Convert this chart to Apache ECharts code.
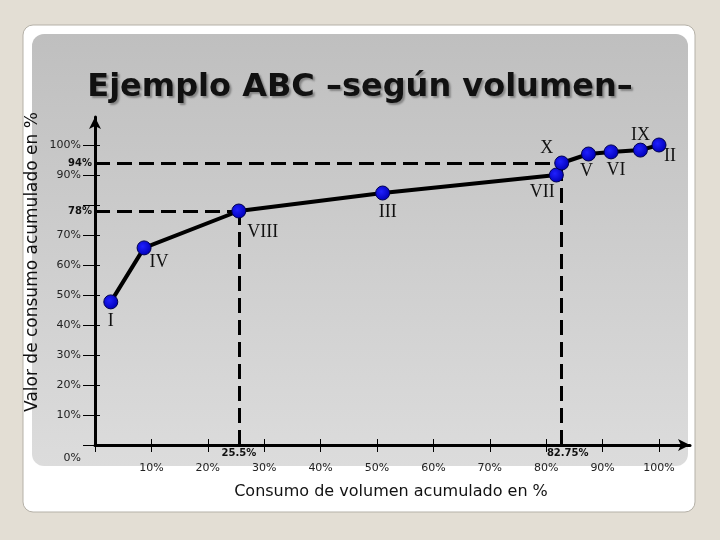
<!DOCTYPE html>
<html>
<head>
<meta charset="utf-8">
<script src="https://cdn.jsdelivr.net/npm/echarts@6/dist/echarts.min.js"></script>
<style>
html,body{margin:0;padding:0;background:#e3ded4;}
#main{width:720px;height:540px;}
</style>
</head>
<body>
<div id="main"></div>
<script>
// datos de la curva ABC
var clases  = ['I', 'IV', 'VIII', 'III', 'VII', 'X', 'V', 'VI', 'IX', 'II'];
var volumen = [2.8, 8.7, 25.5, 51, 81.8, 82.75, 87.5, 91.5, 96.7, 100];
var valor   = [47.7, 65.7, 78, 84, 90, 94, 97, 97.7, 98.3, 100];
// cortes A/B/C
var corteX = [25.5, 82.75];
var corteY = [78, 94];

// desplazamiento de las etiquetas (px respecto al punto)
var despEtiq = [[0,19],[15,14],[24,21],[5,19],[-14,17],[-15,-15],[-2,17],[5,18],[0,-15],[11,11]];

var fuente = 'DejaVu Sans';
var myChart = echarts.init(document.getElementById('main'));

var puntos = [];
for (var i = 0; i < clases.length; i++) {
    puntos.push({
        name: clases[i],
        value: [volumen[i], valor[i]],
        label: {offset: despEtiq[i]}
    });
}

function pct(v){ return v + '%'; }

var lineaCorte = {
    symbol: ['none', 'none'],
    silent: true,
    animation: false,
    lineStyle: {color: '#000', width: 3, type: [15, 7]},
    label: {
        show: true, position: 'start', distance: 3,
        color: '#111', fontFamily: fuente, fontWeight: 'bold', fontSize: 10
    },
    data: [
        [{coord: [0, corteY[1]], label: {formatter: pct(corteY[1])}}, {coord: [corteX[1], corteY[1]]}],
        [{coord: [0, corteY[0]], label: {formatter: pct(corteY[0])}}, {coord: [corteX[0], corteY[0]]}],
        [{coord: [corteX[0], 0], label: {formatter: pct(corteX[0])}}, {coord: [corteX[0], corteY[0]]}],
        [{coord: [corteX[1], 0], label: {formatter: pct(corteX[1]), offset: [6, 0]}}, {coord: [corteX[1], corteY[1]]}]
    ]
};

var ejeBase = {
    type: 'value', min: 0, max: 100, interval: 10,
    axisLine: {show: false},
    splitLine: {show: false}
};

myChart.setOption({
    backgroundColor: '#e3ded4',
    animation: false,
    title: {
        text: 'Ejemplo ABC \u2013según volumen\u2013',
        left: 'center', top: 67,
        textStyle: {
            fontFamily: fuente, fontWeight: 'bold', fontSize: 32, color: '#111',
            textShadowColor: 'rgba(90,90,90,0.6)', textShadowBlur: 2,
            textShadowOffsetX: 2, textShadowOffsetY: 2
        }
    },
    graphic: [
        {type: 'rect', z: -20, shape: {x: 23, y: 25, width: 672, height: 487, r: 10},
         style: {fill: '#ffffff', stroke: '#b5b1a8', lineWidth: 1}},
        {type: 'rect', z: -19, shape: {x: 32, y: 34, width: 656, height: 432, r: 12},
         style: {fill: new echarts.graphic.LinearGradient(0, 0, 0, 1, [
             {offset: 0, color: '#bfbfbf'}, {offset: 1, color: '#dcdcdc'}])}},
        {type: 'text', z: 10, x: 33, y: 262, rotation: Math.PI / 2,
         style: {text: 'Valor de consumo acumulado en %', fontFamily: fuente, fontSize: 17,
                 fill: '#111', align: 'center', verticalAlign: 'middle'}},
        {type: 'text', z: 10, x: 391, y: 492,
         style: {text: 'Consumo de volumen acumulado en %', fontFamily: fuente, fontSize: 16,
                 fill: '#111', align: 'center', verticalAlign: 'middle'}}
    ],
    grid: [
        {left: 95, right: 61, top: 145, bottom: 95, outerBoundsMode: 'none'},
        {left: 95, right: 30, top: 117, bottom: 95, outerBoundsMode: 'none'}
    ],
    xAxis: [
        echarts.util.merge({
            gridIndex: 0, position: 'bottom',
            axisTick: {show: true, inside: false, length: 7, lineStyle: {color: '#000', width: 1}},
            axisLabel: {
                margin: 18, color: '#222', fontFamily: fuente, fontSize: 11,
                formatter: function (v) { return v === 0 ? '' : v + '%'; }
            }
        }, ejeBase, true),
        echarts.util.merge({
            gridIndex: 0, position: 'bottom',
            axisTick: {show: true, inside: true, length: 6, lineStyle: {color: '#000', width: 1}},
            axisLabel: {show: false}
        }, ejeBase, true),
        {type: 'value', gridIndex: 1, min: 0, max: 100, position: 'bottom',
         axisLine: {show: true, symbol: ['none', 'arrow'], symbolSize: [9, 12], lineStyle: {color: '#000', width: 3}},
         axisTick: {show: false}, axisLabel: {show: false}, splitLine: {show: false}}
    ],
    yAxis: [
        echarts.util.merge({
            gridIndex: 0, position: 'left',
            axisTick: {show: true, inside: false, length: 12, lineStyle: {color: '#000', width: 1}},
            axisLabel: {
                margin: 14, color: '#222', fontFamily: fuente, fontSize: 11,
                formatter: function (v) {
                    if (v === 0) return '{z|0%}';
                    if (v === 80) return '';
                    return v + '%';
                },
                rich: {z: {fontFamily: fuente, fontSize: 11, color: '#222', padding: [26, 0, 0, 0]}}
            }
        }, ejeBase, true),
        echarts.util.merge({
            gridIndex: 0, position: 'left',
            axisTick: {show: true, inside: true, length: 5, lineStyle: {color: '#000', width: 1}},
            axisLabel: {show: false}
        }, ejeBase, true),
        {type: 'value', gridIndex: 1, min: 0, max: 100, position: 'left',
         axisLine: {show: true, symbol: ['none', 'arrow'], symbolSize: [9, 12], lineStyle: {color: '#000', width: 3}},
         axisTick: {show: false}, axisLabel: {show: false}, splitLine: {show: false}}
    ],
    series: [
        {
            name: 'cortes', type: 'line', xAxisIndex: 0, yAxisIndex: 0, z: 2,
            data: [], markLine: lineaCorte
        },
        {
            name: 'ABC', type: 'line', xAxisIndex: 0, yAxisIndex: 0, z: 5,
            data: puntos,
            symbol: 'circle', symbolSize: 14,
            lineStyle: {color: '#000', width: 4},
            itemStyle: {
                color: new echarts.graphic.RadialGradient(0.4, 0.4, 0.6, [
                    {offset: 0, color: '#2020ff'}, {offset: 1, color: '#0000b8'}]),
                borderColor: '#000050', borderWidth: 1
            },
            label: {
                show: true, position: 'inside',
                formatter: '{b}', color: '#111',
                fontFamily: 'Liberation Serif', fontSize: 18
            }
        }
    ]
});
</script>
</body>
</html>
